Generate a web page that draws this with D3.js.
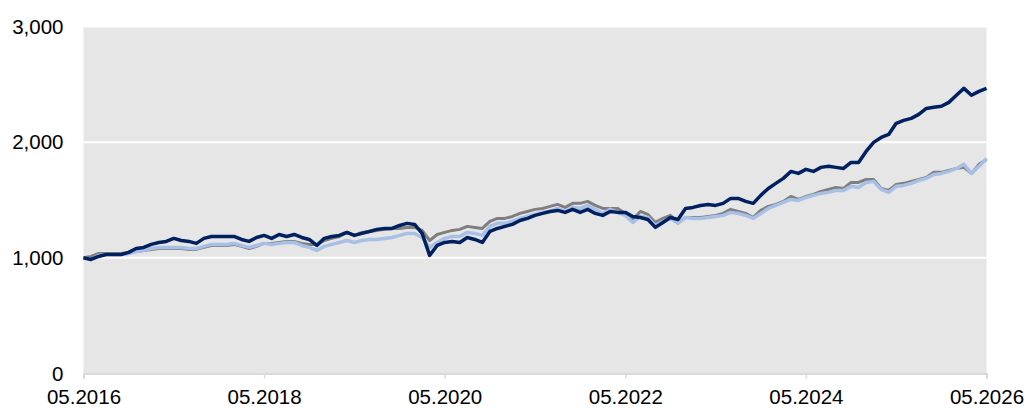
<!DOCTYPE html>
<html>
<head>
<meta charset="utf-8">
<script src="https://cdn.jsdelivr.net/npm/d3@7"></script>
<style>
  html, body { margin: 0; padding: 0; background: #ffffff; }
  svg { display: block; }
</style>
</head>
<body>
<svg id="chart" width="1027" height="408"></svg>
<script>
// Monthly values, 05.2016 .. 05.2026 (121 months)
const xTickLabels = ["05.2016", "05.2018", "05.2020", "05.2022", "05.2024", "05.2026"];
const yTickValues = [0, 1000, 2000, 3000];

const seriesNavy = [
  1000, 986, 1012, 1029, 1029, 1029, 1047, 1081, 1090, 1116, 1133, 1142, 1168, 1150, 1142, 1125,
  1168, 1185, 1185, 1185, 1185, 1159, 1142, 1176, 1194, 1168, 1202, 1185, 1202, 1176, 1159, 1107,
  1168, 1185, 1194, 1220, 1194, 1211, 1228, 1246, 1254, 1254, 1280, 1298, 1289, 1211, 1021, 1107,
  1133, 1142, 1133, 1176, 1159, 1133, 1228, 1254, 1272, 1289, 1323, 1341, 1367, 1384, 1401, 1410,
  1393, 1419, 1393, 1419, 1384, 1367, 1401, 1393, 1393, 1358, 1349, 1332, 1263, 1306, 1349, 1332,
  1427, 1436, 1453, 1462, 1453, 1471, 1514, 1514, 1488, 1471, 1540, 1600, 1644, 1687, 1747, 1730,
  1765, 1747, 1782, 1791, 1782, 1773, 1825, 1825, 1920, 1998, 2041, 2067, 2163, 2188, 2206, 2240,
  2292, 2301, 2310, 2344, 2405, 2465, 2405, 2439, 2465
];
const seriesGray = [
  1000, 1012, 1038, 1038, 1038, 1038, 1047, 1055, 1064, 1073, 1081, 1081, 1081, 1081, 1073, 1073,
  1090, 1107, 1107, 1107, 1116, 1099, 1081, 1099, 1125, 1125, 1133, 1142, 1142, 1125, 1116, 1116,
  1150, 1168, 1185, 1220, 1194, 1220, 1228, 1237, 1246, 1254, 1254, 1263, 1263, 1237, 1150, 1202,
  1220, 1237, 1246, 1272, 1263, 1254, 1315, 1341, 1341, 1358, 1384, 1401, 1419, 1427, 1445, 1462,
  1436, 1471, 1471, 1488, 1453, 1427, 1427, 1427, 1384, 1332, 1401, 1375, 1306, 1341, 1367, 1306,
  1349, 1349, 1349, 1358, 1367, 1384, 1419, 1401, 1384, 1349, 1410, 1445, 1462, 1488, 1531, 1505,
  1531, 1548, 1574, 1592, 1609, 1600, 1652, 1652, 1678, 1678, 1600, 1583, 1635, 1644, 1661, 1678,
  1695, 1739, 1739, 1756, 1773, 1782, 1730, 1808, 1851
];
const seriesLightBlue = [
  1000, 986, 1021, 1029, 1029, 1029, 1038, 1055, 1064, 1081, 1090, 1090, 1090, 1090, 1081, 1081,
  1099, 1116, 1116, 1116, 1125, 1107, 1090, 1107, 1125, 1116, 1125, 1133, 1133, 1107, 1090, 1064,
  1099, 1116, 1133, 1150, 1133, 1150, 1159, 1159, 1168, 1176, 1194, 1211, 1211, 1176, 1090, 1133,
  1168, 1185, 1185, 1220, 1211, 1194, 1272, 1298, 1298, 1315, 1341, 1358, 1375, 1393, 1401, 1427,
  1401, 1436, 1427, 1453, 1419, 1384, 1419, 1393, 1367, 1306, 1358, 1349, 1280, 1315, 1341, 1298,
  1349, 1341, 1341, 1349, 1358, 1367, 1393, 1384, 1367, 1341, 1384, 1427, 1453, 1479, 1505, 1496,
  1522, 1540, 1557, 1566, 1583, 1583, 1618, 1609, 1652, 1661, 1592, 1566, 1618, 1626, 1644, 1669,
  1687, 1721, 1730, 1747, 1773, 1808, 1730, 1791, 1860
];

const W = 1027, H = 408;
const margin = { left: 83.5, right: 1027 - 986.5, top: 26.5, bottom: 408 - 373.5 };
const svg = d3.select("#chart");
const FONT = "Liberation Sans, Arial, sans-serif";

const x = d3.scaleLinear().domain([0, seriesNavy.length - 1]).range([margin.left, W - margin.right]);
const y = d3.scaleLinear().domain([0, 3000]).range([H - margin.bottom, margin.top]);

// plot background
svg.append("rect")
  .attr("x", x(0)).attr("y", y(3000))
  .attr("width", x(120) - x(0)).attr("height", y(0) - y(3000))
  .attr("fill", "#e6e6e6");

// gridlines
svg.append("g").selectAll("line").data(yTickValues.filter(v => v > 0)).join("line")
  .attr("x1", x(0)).attr("x2", x(120))
  .attr("y1", d => y(d)).attr("y2", d => y(d))
  .attr("stroke", "#ffffff").attr("stroke-width", 2);

// y axis labels
const yAxis = d3.axisLeft(y).tickValues(yTickValues).tickSize(0).tickPadding(20)
  .tickFormat(d3.format(","));
const gy = svg.append("g").attr("transform", `translate(${x(0)},0)`).call(yAxis);
gy.select(".domain").remove();
gy.selectAll("text").attr("font-family", FONT)
  .attr("font-size", 20.5).attr("fill", "#000");

// x axis
const xTickIdx = xTickLabels.map((_, i) => i * 24);
const xAxis = d3.axisBottom(x).tickValues(xTickIdx).tickSize(5).tickPadding(11)
  .tickFormat((d, i) => xTickLabels[i]);
const gx = svg.append("g").attr("transform", `translate(0,${y(0)})`).call(xAxis);
gx.select(".domain").attr("stroke", "#d9d9d9").attr("stroke-width", 2);
gx.selectAll(".tick line").attr("stroke", "#d9d9d9").attr("stroke-width", 1.5);
gx.selectAll("text").attr("font-family", FONT)
  .attr("font-size", 20.5).attr("fill", "#000");

// lines
const line = d3.line().x((d, i) => x(i)).y(d => y(d));
const series = [
  { data: seriesGray, color: "#7f7f7f", width: 3 },
  { data: seriesLightBlue, color: "#a8bfe6", width: 3.5 },
  { data: seriesNavy, color: "#002060", width: 3.5 }
];
svg.append("g").selectAll("path").data(series).join("path")
  .attr("d", d => line(d.data))
  .attr("fill", "none")
  .attr("stroke", d => d.color)
  .attr("stroke-width", d => d.width)
  .attr("stroke-linejoin", "round");
</script>
</body>
</html>
